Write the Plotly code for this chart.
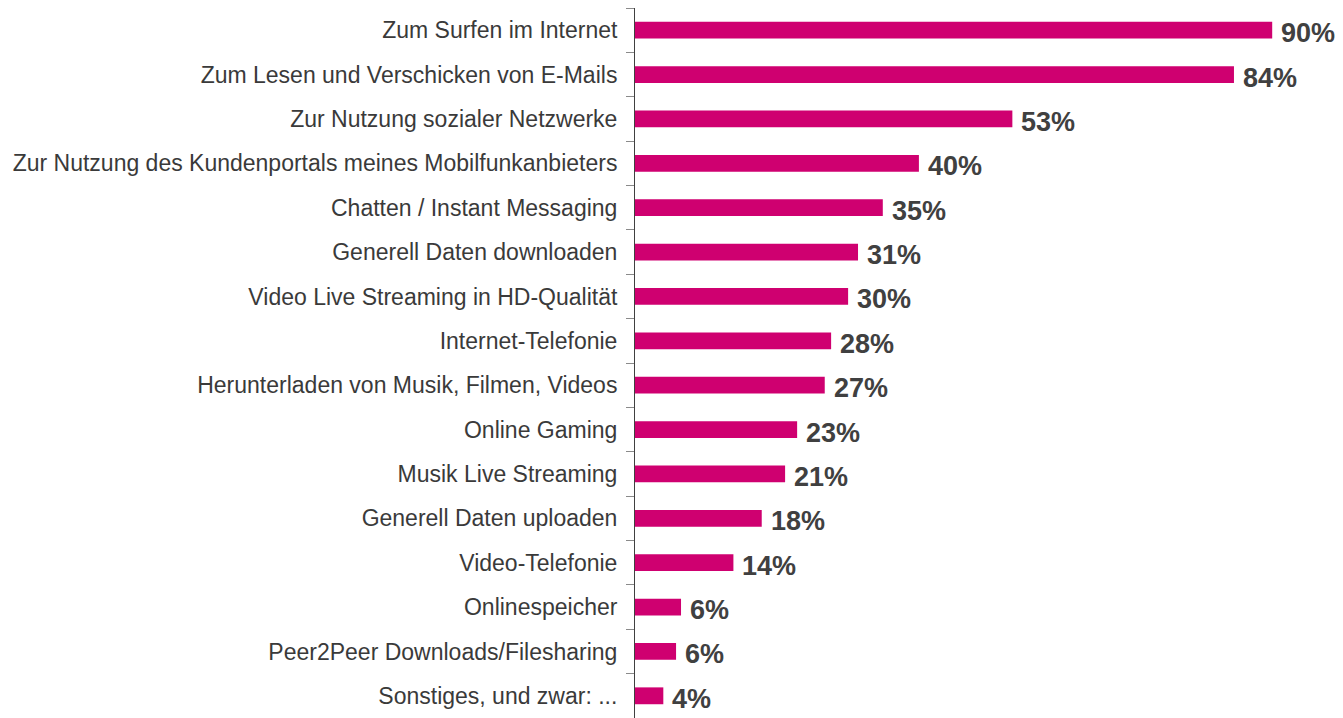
import plotly.graph_objects as go

categories = [
    "Zum Surfen im Internet",
    "Zum Lesen und Verschicken von E-Mails",
    "Zur Nutzung sozialer Netzwerke",
    "Zur Nutzung des Kundenportals meines Mobilfunkanbieters",
    "Chatten / Instant Messaging",
    "Generell Daten downloaden",
    "Video Live Streaming in HD-Qualität",
    "Internet-Telefonie",
    "Herunterladen von Musik, Filmen, Videos",
    "Online Gaming",
    "Musik Live Streaming",
    "Generell Daten uploaden",
    "Video-Telefonie",
    "Onlinespeicher",
    "Peer2Peer Downloads/Filesharing",
    "Sonstiges, und zwar: ...",
]
values = [90.0, 84.6, 53.3, 40.1, 35.0, 31.5, 30.1, 27.7, 26.8, 22.9, 21.2, 17.9, 13.9, 6.5, 5.8, 4.0]
labels = ["90%", "84%", "53%", "40%", "35%", "31%", "30%", "28%", "27%", "23%", "21%", "18%", "14%", "6%", "6%", "4%"]

BAR = "#CF0070"
TXT = "#3a3a3a"

fig = go.Figure(go.Bar(
    x=values, y=categories, orientation="h",
    marker=dict(color=BAR, line=dict(width=0)),
    width=0.38, hoverinfo="skip",
))

for c, v, t in zip(categories, values, labels):
    fig.add_annotation(x=v, y=c, text=t, showarrow=False, xanchor="left",
                       yanchor="middle", xshift=7, yshift=-3,
                       font=dict(family="Liberation Sans, Arial", size=27, color="#404040", weight="bold"))

fig.update_layout(
    width=1335, height=710,
    margin=dict(l=627, r=0, t=0, b=0),
    paper_bgcolor="white", plot_bgcolor="white",
    showlegend=False,
    xaxis=dict(range=[0, 100], visible=False, fixedrange=True),
    yaxis=dict(
        autorange="reversed", showline=True, linecolor="#404040", linewidth=1,
        ticks="outside", ticklen=8, tickcolor="#8a8a8a", tickwidth=1,
        tickson="boundaries", showgrid=False, zeroline=False,
        ticklabelstandoff=12,
        tickfont=dict(family="Liberation Sans, Arial", size=23, color=TXT),
    ),
)

fig.write_html("out.html")
